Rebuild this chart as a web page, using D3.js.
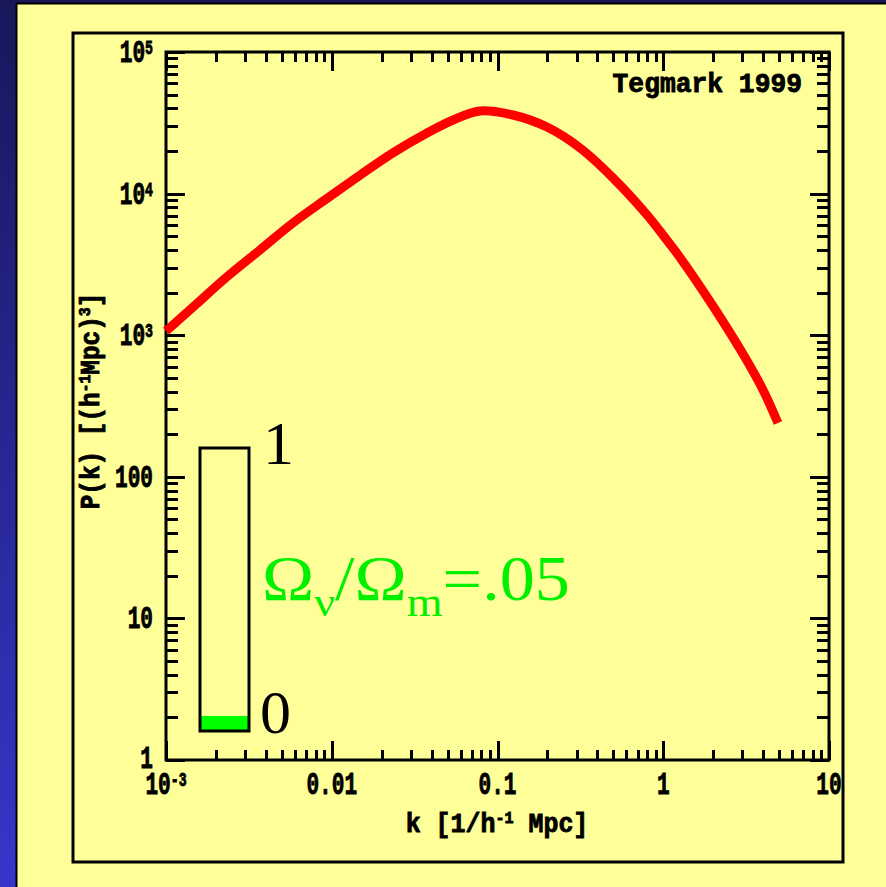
<!DOCTYPE html>
<meta charset="utf-8">
<style>
html, body { margin: 0; padding: 0; background: #1b1b5c; }
svg { display: block; }
.mono { font-family: "Liberation Mono", "Courier New", monospace; font-weight: bold; fill: #000; stroke: #000; stroke-width: 0.9; }
.serif { font-family: "Liberation Serif", "Times New Roman", serif; }
.tick line { stroke: #000; stroke-width: 3; shape-rendering: crispEdges; }
.domain { display: none; }
</style>
<body></body>
<script src="https://d3js.org/d3.v7.min.js"></script>
<script>
// power spectrum
var kValues = [0.001, 0.00146, 0.00233, 0.00369, 0.00583, 0.00935, 0.0148, 0.0234, 0.0376, 0.054, 0.0783, 0.124, 0.199, 0.315, 0.498, 0.798, 1.0, 1.26, 2.0, 3.2, 4.0, 4.92];
var pValues = [1070, 1585, 2580, 4000, 6200, 9230, 13490, 19400, 26800, 33100, 38300, 35900, 29500, 21000, 12900, 7080, 5070, 3550, 1600, 660, 410, 240];

var xTickValues = [0.001, 0.01, 0.1, 1, 10];
var xTickLabels = [["10", "-3"], ["0.01"], ["0.1"], ["1"], ["10"]];
var yTickValues = [1, 10, 100, 1000, 10000, 100000];
var yTickLabels = [["1"], ["10"], ["100"], ["10", "3"], ["10", "4"], ["10", "5"]];

var nuFraction = 0.05;

var W = 886, H = 887;
var plot = {left: 166, top: 52, right: 829, bottom: 760};

var svg = d3.select("body").append("svg")
    .attr("width", W)
    .attr("height", H);

var defs = svg.append("defs");
var grad = defs.append("linearGradient").attr("id", "bg")
    .attr("x1", 0).attr("y1", 0).attr("x2", 0).attr("y2", 1);
grad.append("stop").attr("offset", "0%").attr("stop-color", "#17175a");
grad.append("stop").attr("offset", "100%").attr("stop-color", "#3636cc");

svg.append("rect").attr("width", W).attr("height", H).attr("fill", "url(#bg)");

// yellow slide panel
svg.append("rect")
    .attr("x", 16.5).attr("y", 3.5)
    .attr("width", W).attr("height", H)
    .attr("fill", "#ffff99")
    .attr("stroke", "#000").attr("stroke-width", 2);

// outer frame
svg.append("rect")
    .attr("x", 73).attr("y", 33)
    .attr("width", 770).attr("height", 829)
    .attr("fill", "none")
    .attr("stroke", "#000").attr("stroke-width", 3);

var x = d3.scaleLog().domain([0.001, 10]).range([plot.left, plot.right]);
var y = d3.scaleLog().domain([1, 100000]).range([plot.bottom, plot.top]);

function minorOf(scale, majors) {
  return scale.ticks().filter(function(v) {
    return majors.every(function(m) { return Math.abs(v / m - 1) > 1e-6; });
  });
}
var xMinor = minorOf(x, xTickValues);
var yMinor = minorOf(y, yTickValues);

function addAxis(axisFn, scale, values, size, transform) {
  svg.append("g")
    .attr("transform", transform)
    .call(axisFn(scale).tickValues(values).tickSize(-size).tickFormat(""));
}
// ticks point inward on all four sides
addAxis(d3.axisBottom, x, xTickValues, 19, "translate(0," + plot.bottom + ")");
addAxis(d3.axisBottom, x, xMinor, 10, "translate(0," + plot.bottom + ")");
addAxis(d3.axisTop, x, xTickValues, 19, "translate(0," + plot.top + ")");
addAxis(d3.axisTop, x, xMinor, 10, "translate(0," + plot.top + ")");
addAxis(d3.axisLeft, y, yTickValues, 19, "translate(" + plot.left + ",0)");
addAxis(d3.axisLeft, y, yMinor, 12, "translate(" + plot.left + ",0)");
addAxis(d3.axisRight, y, yTickValues, 19, "translate(" + plot.right + ",0)");
addAxis(d3.axisRight, y, yMinor, 12, "translate(" + plot.right + ",0)");

svg.append("rect")
    .attr("x", plot.left).attr("y", plot.top)
    .attr("width", plot.right - plot.left).attr("height", plot.bottom - plot.top)
    .attr("fill", "none")
    .attr("stroke", "#000").attr("stroke-width", 3);

// tick labels, squeezed horizontally like the original plot font
function label(g, parts, anchor) {
  var t = g.append("text").attr("class", "mono")
      .attr("font-size", 32)
      .attr("text-anchor", anchor);
  t.append("tspan").text(parts[0]);
  if (parts[1]) {
    t.append("tspan").attr("font-size", 20).attr("dy", -8).text(parts[1]);
  }
}

xTickValues.forEach(function(v, i) {
  var g = svg.append("g")
      .attr("transform", "translate(" + x(v) + ",794) scale(0.66,1)");
  label(g, xTickLabels[i], "middle");
});
yTickValues.forEach(function(v, i) {
  var g = svg.append("g")
      .attr("transform", "translate(153," + (y(v) + (i === 0 ? 8 : 10)) + ") scale(0.66,1)");
  label(g, yTickLabels[i], "end");
});

// axis titles
var xt = svg.append("text").attr("class", "mono")
    .attr("font-size", 28)
    .attr("text-anchor", "middle")
    .attr("transform", "translate(497,832) scale(0.89,1)");
xt.append("tspan").text("k [1/h");
xt.append("tspan").attr("font-size", 17).attr("dy", -9).text("-1");
xt.append("tspan").attr("dy", 9).text(" Mpc]");

var yt = svg.append("text").attr("class", "mono")
    .attr("font-size", 28)
    .attr("text-anchor", "middle")
    .attr("transform", "translate(99,401) rotate(-90) scale(0.87,1)");
yt.append("tspan").text("P(k) [(h");
yt.append("tspan").attr("font-size", 17).attr("dy", -9).text("-1");
yt.append("tspan").attr("dy", 9).text("Mpc)");
yt.append("tspan").attr("font-size", 17).attr("dy", -9).text("3");
yt.append("tspan").attr("dy", 9).text("]");

svg.append("text").attr("class", "mono")
    .attr("font-size", 28)
    .attr("text-anchor", "end")
    .attr("transform", "translate(802,92) scale(0.94,1)")
    .text("Tegmark 1999");

// the curve
var pts = kValues.map(function(k, i) { return [k, pValues[i]]; });
var line = d3.line()
    .x(function(d) { return x(d[0]); })
    .y(function(d) { return y(d[1]); })
    .curve(d3.curveCatmullRom.alpha(0.5));

svg.append("path")
    .datum(pts)
    .attr("d", line)
    .attr("fill", "none")
    .attr("stroke", "#ff0000")
    .attr("stroke-width", 9);

// inset bar: neutrino fraction
var f = d3.scaleLinear().domain([0, 1]).range([730, 449]);
svg.append("rect")
    .attr("x", 201).attr("y", f(nuFraction))
    .attr("width", 47).attr("height", f(0) - f(nuFraction))
    .attr("fill", "#00ff00");
svg.append("rect")
    .attr("x", 200).attr("y", f(1) - 1)
    .attr("width", 49).attr("height", f(0) - f(1) + 2)
    .attr("fill", "none")
    .attr("stroke", "#000").attr("stroke-width", 3);

svg.append("text").attr("class", "serif")
    .attr("x", 263).attr("y", f(1) + 15)
    .attr("font-size", 62)
    .text("1");
svg.append("text").attr("class", "serif")
    .attr("x", 260).attr("y", f(0) + 3)
    .attr("font-size", 62)
    .text("0");

var om = svg.append("text").attr("class", "serif")
    .attr("x", 262).attr("y", 600)
    .attr("font-size", 64)
    .attr("fill", "#00f000")
    .attr("textLength", 308)
    .attr("lengthAdjust", "spacingAndGlyphs");
om.append("tspan").text("\u03A9");
om.append("tspan").attr("font-size", 42).attr("dy", 16).text("\u03BD");
om.append("tspan").attr("dy", -16).text("/\u03A9");
om.append("tspan").attr("font-size", 42).attr("dy", 16).text("m");
om.append("tspan").attr("dy", -16).text("=." + String(nuFraction).slice(2));
</script>
